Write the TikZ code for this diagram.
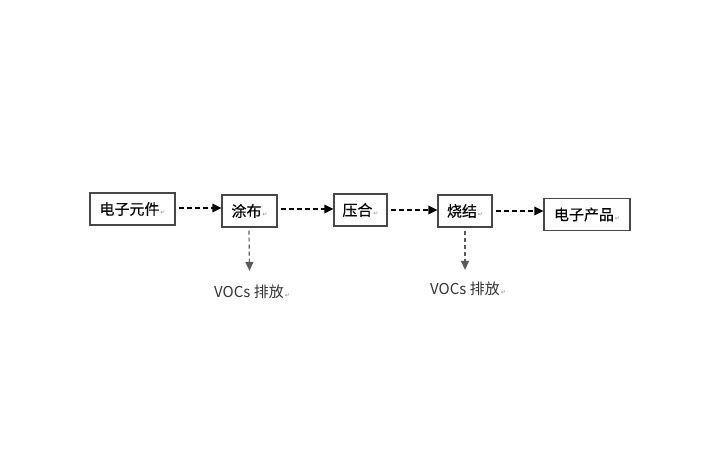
\documentclass[tikz,border=0pt]{standalone}
\usepackage{fontspec}
\setmainfont{Noto Sans CJK SC}[FakeBold=0.3]
\newfontfamily\lblfont{Noto Sans CJK SC}
\newfontfamily\retfont{DejaVu Sans}
\usetikzlibrary{arrows.meta}
\newcommand{\rmark}{\hspace{1pt}{\retfont\fontsize{6}{6}\selectfont\textcolor{black!45}{↵}}}
\tikzset{
  box/.style={draw=black!72, line width=1.1pt, minimum height=32pt, inner sep=0pt, font=\fontsize{15}{17}\selectfont, anchor=center},
  flow/.style={line width=1.4pt, dash pattern=on 5pt off 3pt, -{Triangle[length=9pt,width=8.5pt]}},
  emit/.style={draw=black!65, line width=1.2pt, dash pattern=on 4pt off 3pt, -{Triangle[length=9pt,width=8pt]}, black!65},
  lbl/.style={font=\lblfont\fontsize{15}{17}\selectfont, text=black!80, inner sep=0pt}
}
\begin{document}
\begin{tikzpicture}[x=1pt,y=-1pt]
\useasboundingbox (0,0) rectangle (722,474);
\fill[white] (0,0) rectangle (722,474);
\node[box, minimum width=85pt] (n1) at (132.5,209) {电子元件\rmark};
\node[box, minimum width=55pt] (n2) at (249.5,211) {涂布\rmark};
\node[box, minimum width=53pt] (n3) at (360.5,210) {压合\rmark};
\node[box, minimum width=54pt] (n4) at (465,211) {烧结\rmark};
\node[box, minimum width=86pt] (n5) at (587,214.5) {电子产品\rmark};
\node[lbl] (v1) at (252,292) {VOCs 排放\rmark};
\node[lbl] (v2) at (468,289) {VOCs 排放\rmark};
\draw[flow] ([xshift=3pt,yshift=1pt]n1.east) -- ([yshift=1pt]n2.west |- n1.east);
\draw[flow] ([xshift=3pt,yshift=2pt]n2.east) -- ([yshift=2pt]n3.west |- n2.east);
\draw[flow] ([xshift=3pt]n3.east) -- (n4.west |- n3.east);
\draw[flow] ([xshift=3pt]n4.east) -- (n5.west |- n4.east);
\draw[emit] ([yshift=-3pt,xshift=-0.5pt]n2.south) -- ([yshift=14pt]n2.south |- v1.north);
\draw[emit] ([yshift=-3pt]n4.south) -- ([yshift=12pt]n4.south |- v2.north);
\end{tikzpicture}
\end{document}
